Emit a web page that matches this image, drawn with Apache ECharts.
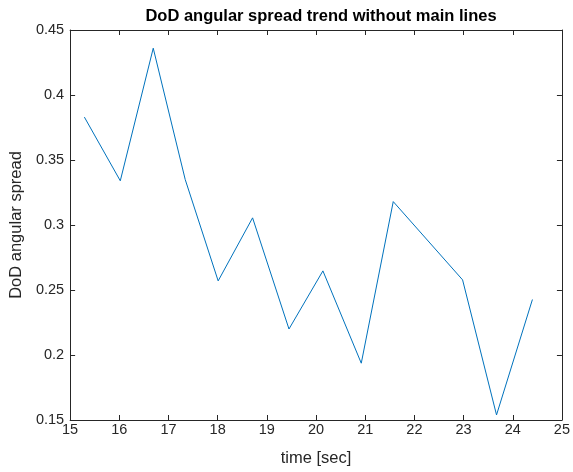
<!DOCTYPE html>
<html>
<head>
<meta charset="utf-8">
<script src="https://cdn.jsdelivr.net/npm/echarts@6/dist/echarts.min.js"></script>
<style>
  html, body { margin: 0; padding: 0; background: #fff; }
  #chart { width: 573px; height: 472px; }
</style>
</head>
<body>
<div id="chart"></div>
<script>
  // time stamps [sec] and spread values
  const timeSec = [15.29, 16.02, 16.69, 17.34, 18.01, 18.71, 19.45, 20.14, 20.92, 21.57, 22.98, 23.67, 24.40];
  const spread = [0.383, 0.334, 0.436, 0.335, 0.257, 0.3055, 0.220, 0.2647, 0.1937, 0.318, 0.2578, 0.1539, 0.2427];

  const FONT = 'Liberation Sans, Arial, Helvetica, sans-serif';
  const AXIS_COLOR = '#262626';

  const chart = echarts.init(document.getElementById('chart'));

  function boxAxis(base) {
    return Object.assign({
      type: 'value',
      axisLine: { show: true, onZero: false, lineStyle: { color: AXIS_COLOR, width: 1 } },
      axisTick: { show: true, inside: true, length: 5, lineStyle: { color: AXIS_COLOR } },
      splitLine: { show: false },
      axisLabel: { show: false }
    }, base);
  }

  const pts = timeSec.map(function (t, i) { return [t, spread[i]]; });

  chart.setOption({
    animation: false,
    backgroundColor: '#fff',
    title: {
      text: 'DoD angular spread trend without main lines',
      left: 316,
      textAlign: 'center',
      top: 3,
      textStyle: { fontFamily: FONT, fontSize: 16.5, fontWeight: 'bold', color: '#000' }
    },
    grid: { left: 68, right: 7, top: 30, bottom: 50 },
    xAxis: [
      boxAxis({
        min: 15, max: 25, interval: 1, position: 'bottom',
        name: 'time [sec]', nameLocation: 'middle', nameGap: 30,
        nameTextStyle: { fontFamily: FONT, fontSize: 16.5, color: AXIS_COLOR },
        axisLabel: { show: true, fontFamily: FONT, fontSize: 14.5, color: AXIS_COLOR, margin: 2 }
      }),
      boxAxis({ min: 15, max: 25, interval: 1, position: 'top' })
    ],
    yAxis: [
      boxAxis({
        min: 0.15, max: 0.45, interval: 0.05, position: 'left',
        name: 'DoD angular spread', nameLocation: 'middle', nameGap: 40,
        nameTextStyle: { fontFamily: FONT, fontSize: 16.5, color: AXIS_COLOR },
        axisLabel: {
          show: true, fontFamily: FONT, fontSize: 14.5, color: AXIS_COLOR, margin: 6,
          formatter: function (v) { return String(parseFloat(v.toFixed(2))); }
        }
      }),
      boxAxis({ min: 0.15, max: 0.45, interval: 0.05, position: 'right' })
    ],
    series: [{
      type: 'line',
      data: pts,
      showSymbol: false,
      lineStyle: { color: '#0072BD', width: 1 },
      itemStyle: { color: '#0072BD' }
    }]
  });
</script>
</body>
</html>
